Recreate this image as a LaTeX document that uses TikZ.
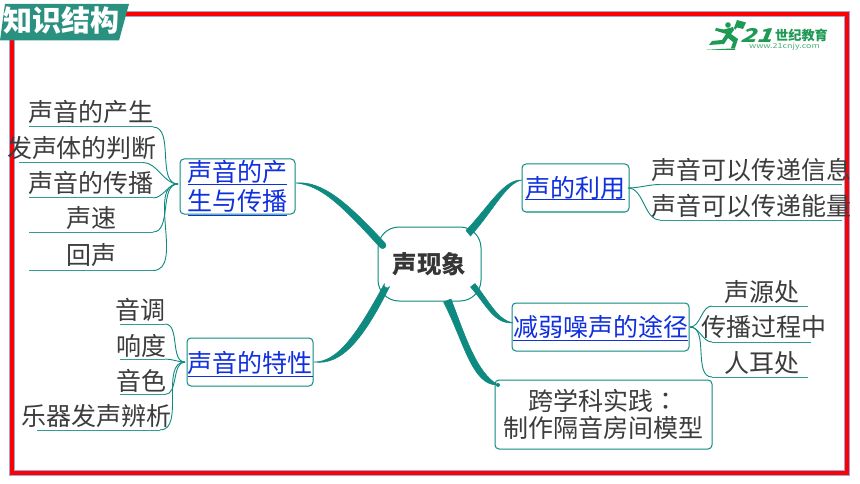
\documentclass[tikz,border=0pt]{standalone}
\usepackage{fontspec}
\setmainfont{Noto Sans CJK SC}
\newfontfamily\tcfont{Noto Sans CJK TC}
\usetikzlibrary{calc}
\definecolor{teal1}{HTML}{0E8A80}
\definecolor{banner}{HTML}{2A9080}
\definecolor{ink}{HTML}{3C3C3C}
\definecolor{linkblue}{HTML}{1030E0}
\definecolor{frameblue}{HTML}{9AA6DC}
\definecolor{logogreen}{HTML}{1F9A55}
\newcommand{\fs}[1]{\fontsize{#1}{#1}\selectfont}
\tikzset{
  x=1pt,y=-1pt,
  leaf/.style={inner sep=0pt,text=ink,font=\fs{25}},
  under/.style={draw=teal1!85!white,line width=1pt},
  twig/.style={draw=teal1,line width=0.9pt},
  topicbox/.style={draw=teal1,line width=1pt,rounded corners=4pt,inner sep=0pt},
  topic/.style={inner sep=0pt,text=linkblue,font=\fs{25},align=center},
  link/.style={draw=linkblue,line width=1pt},
  branch/.style={fill=teal1,draw=teal1,line width=0.5pt,line join=round},
}
\newcommand{\leafnode}[7]{% name, x, y, text, underline x1, x2, uy
  \node[leaf] (#1) at (#2,#3) {#4};
  \coordinate (#1a) at (#5,#7);
  \coordinate (#1b) at (#6,#7);
  \draw[under] (#1a) -- (#1b);
}
\begin{document}
\begin{tikzpicture}
\useasboundingbox (0,0) rectangle (860,484);
\fill[white] (0,0) rectangle (860,484);
% frame
\draw[frameblue,line width=5.6pt] (12,14) rectangle (847,473);
\draw[red,line width=4.2pt] (12,14) rectangle (847,473);
% banner
\fill[banner] (5,4) -- (129,4) -- (119,40.5) -- (0,40.5) -- cycle;
\node[inner sep=0pt,text=white,font=\fs{29}\bfseries] (title) at (62,20.5) {知识结构};
% logo
\begin{scope}[logogreen]
\fill (728,25) circle (2.8);
\fill (734,28) -- (737,20) -- (746,22.5) -- (743,29) -- (737,27.5) -- (735,30) -- cycle;
\fill (733,27) -- (724,29.5) -- (716,28) -- (715,30.5) -- (723,33) -- (726,34) -- (722,40) -- (712,41) -- (709,45) -- (724,44) -- (728,38) -- (733,42) -- (731,48) -- (735,48) -- (738,39) -- (731,34) -- (734,30) -- cycle;
\fill (706,49.8) -- (735,48.3) -- (735,49.8) -- cycle;
\node[inner sep=0pt,font=\fs{19}\bfseries,xscale=1.35,xslant=0.3] (logoa) at (759,35) {21};
\node[inner sep=0pt,font=\fs{13.2}\bfseries] (logob) at (801.5,35) {世纪教育};
\node[inner sep=0pt,font=\fs{7},xscale=1.28,opacity=.8] (logoc) at (784.5,47) {www.21cnjy.com};
\end{scope}
% boxes
\node[draw=teal1,line width=1pt,rounded corners=21pt,fill=white,minimum width=103pt,minimum height=74pt,inner sep=0pt,text=ink!90!black,font=\fs{24.5}\bfseries] (root) at (429.5,264) {声现象};
\node[topicbox,minimum width=115pt,minimum height=55pt] (t1) at (237.5,186.5) {};
\node[topicbox,minimum width=126pt,minimum height=48pt] (t2) at (250,362) {};
\node[topicbox,minimum width=107pt,minimum height=48pt] (t3) at (575.5,188) {};
\node[topicbox,minimum width=177pt,minimum height=48pt] (t4) at (600.5,327) {};
\node[topicbox,minimum width=217pt,minimum height=69pt,text=ink,font=\fs{25},align=center] (t5) at (603.5,414.5) {跨学科实践{\tcfont ：}\\[2.5pt]制作隔音房间模型};
% topic texts
\node[topic] (t1x) at (237.5,171.5) {声音的产};
\node[topic] (t1y) at (237.5,201) {生与传播};
\draw[link] (187.5,185) -- (287,185);
\draw[link] (187.5,215.5) -- (287,215.5);
\node[topic] (t2x) at (250,362.5) {声音的特性};
\draw[link] (187.5,376.5) -- (312.5,376.5);
\node[topic] (t3x) at (575.5,188) {声的利用};
\draw[link] (525,200) -- (625,200);
\node[topic] (t4x) at (600.5,327) {减弱噪声的途径};
\draw[link,line width=1.4pt] (513,340.5) -- (688,340.5);
% thick branches
\coordinate (h1) at (296,183);
\coordinate (h2) at (314,362);
\coordinate (h3) at (522,180);
\coordinate (h4) at (513,323);
\coordinate (h5) at (498,385);
\fill[branch] (h1) .. controls (322,180.5) and (347,202) .. (385,243) arc[start angle=-45,end angle=135,radius=3.3] .. controls (343,207) and (322,185.5) .. (h1) -- cycle;
\fill[branch] (h2) .. controls (338,362) and (357,334) .. (384.5,283.5) arc[start angle=210,end angle=30,radius=3] .. controls (364,338) and (342,366) .. (h2) -- cycle;
\fill[branch] (h3) .. controls (504,179) and (490,205) .. (466,230.5) -- (470.5,236) .. controls (494,210) and (506,183) .. (h3) -- cycle;
\fill[branch] (h4) .. controls (494,324) and (487,306) .. (470.5,287) -- (475,283.5) .. controls (490,303) and (498,320) .. (h4) -- cycle;
\fill[branch] (h5) .. controls (472,386) and (464,342) .. (443.5,302) -- (451,299) .. controls (465,335) and (476,372) .. (h5) -- cycle;
\fill[teal1] (h5) circle (2);
% leaves: group 1
\coordinate (hub1) at (178,184);
\leafnode{a1}{90.5}{112}{声音的产生}{29}{153}{127}
\leafnode{a2}{82}{148}{发声体的判断}{19}{143}{162.5}
\leafnode{a3}{91}{182.5}{声音的传播}{29}{153}{198}
\leafnode{a4}{91}{218}{声速}{29}{153}{232}
\leafnode{a5}{91}{255.5}{回声}{29}{153}{270.5}
\foreach \n in {a1,a2,a3,a4,a5} \draw[twig] (\n b) to[out=0,in=180,looseness=0.9] (hub1);
% group 2
\coordinate (hub2) at (185,362);
\leafnode{b1}{140.5}{310}{音调}{120}{165}{324}
\leafnode{b2}{141}{345.5}{响度}{120}{165}{359}
\leafnode{b3}{141}{381}{音色}{120}{165}{394.5}
\leafnode{b4}{96.5}{416}{乐器发声辨析}{37}{160}{430}
\foreach \n in {b1,b2,b3,b4} \draw[twig] (\n b) to[out=0,in=180,looseness=0.9] (hub2);
% group 3
\coordinate (hub3) at (628,188);
\leafnode{c1}{751}{170}{声音可以传递信息}{660}{842}{184.5}
\leafnode{c2}{751}{206}{声音可以传递能量}{660}{842}{220}
\foreach \n in {c1,c2} \draw[twig] (hub3) to[out=0,in=180,looseness=0.9] (\n a);
% group 4
\coordinate (hub4) at (690,327);
\leafnode{d1}{762}{292}{声源处}{712}{808}{306}
\leafnode{d2}{763.5}{327}{传播过程中}{712}{811}{342}
\leafnode{d3}{762}{363}{人耳处}{712}{808}{377}
\foreach \n in {d1,d2,d3} \draw[twig] (hub4) to[out=0,in=180,looseness=0.9] (\n a);
\end{tikzpicture}
\end{document}
